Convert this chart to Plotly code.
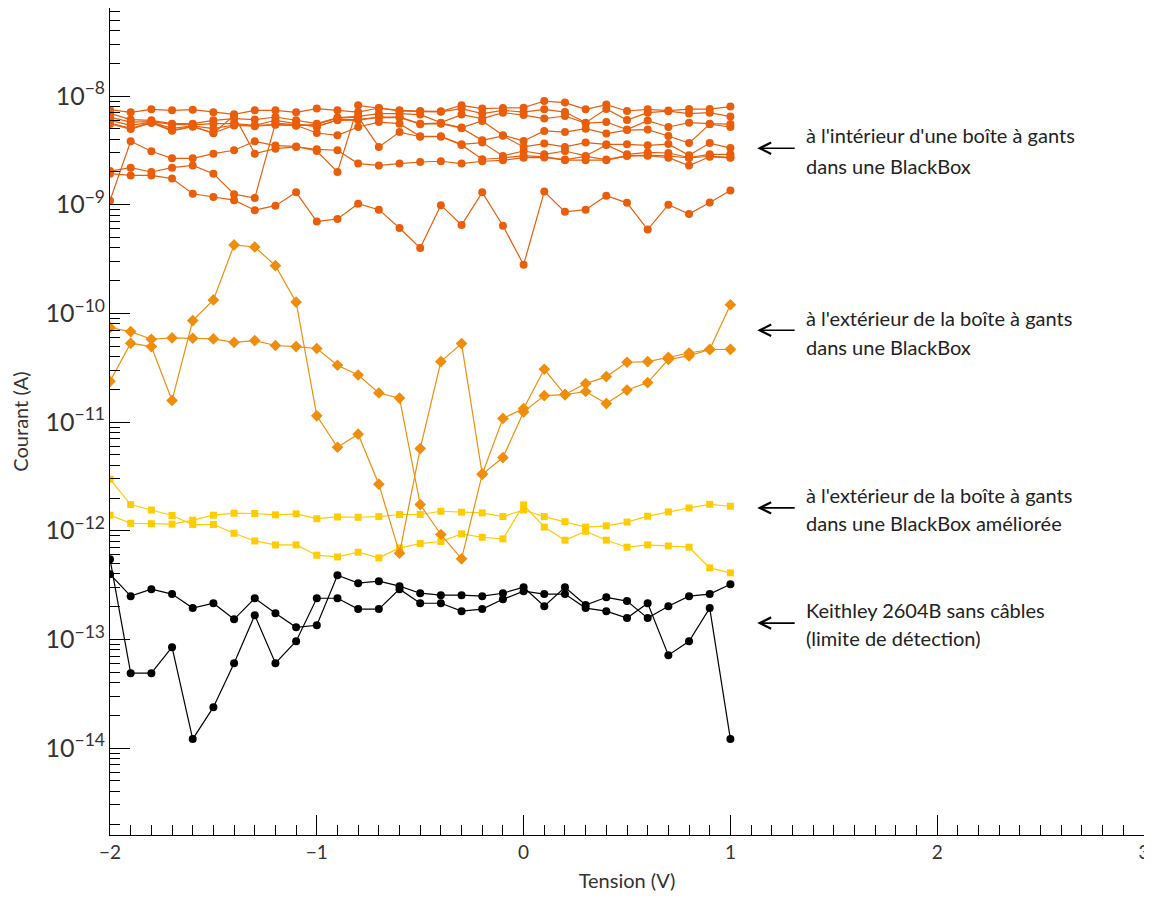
import plotly.graph_objects as go

# ---------------- data ----------------
voltage = [-2.0, -1.9, -1.8, -1.7, -1.6, -1.5, -1.4, -1.3, -1.2, -1.1, -1.0,
           -0.9, -0.8, -0.7, -0.6, -0.5, -0.4, -0.3, -0.2, -0.1, 0.0,
           0.1, 0.2, 0.3, 0.4, 0.5, 0.6, 0.7, 0.8, 0.9, 1.0]

NANO = 1e-9  # inside-glovebox series are listed in nA

inside_nA_1 = [7.49, 7.08, 7.54, 7.39, 7.49, 7.08, 6.79, 7.39, 7.39, 7.08, 7.66, 7.39, 7.12, 7.76, 7.39,
               7.28, 7.23, 8.21, 7.66, 7.76, 7.82, 8.99, 8.70, 7.54, 8.34, 7.28, 7.54, 7.34, 7.59, 7.59, 7.99]
inside_nA_2 = [1.09, 3.83, 3.10, 2.67, 2.67, 2.95, 3.17, 3.83, 3.50, 3.44, 3.12, 2.00, 8.21, 7.71, 7.31,
               7.20, 7.15, 7.66, 6.89, 7.39, 7.12, 7.54, 7.12, 5.69, 7.59, 6.01, 7.03, 7.26, 6.89, 7.03, 6.47]
inside_nA_3 = [6.93, 6.07, 5.98, 5.57, 5.57, 5.98, 6.20, 6.07, 6.41, 5.98, 5.57, 6.33, 6.51, 6.89, 6.89,
               6.75, 5.69, 6.75, 6.20, 7.03, 6.68, 6.20, 6.55, 5.63, 5.76, 4.91, 5.94, 5.19, 5.69, 5.57, 5.52]
inside_nA_4 = [6.41, 5.76, 5.82, 5.49, 5.43, 5.57, 5.57, 5.38, 5.98, 5.57, 5.19, 6.07, 6.07, 6.41, 6.41,
               5.57, 5.63, 5.12, 5.89, 4.35, 3.86, 4.77, 4.66, 5.01, 4.51, 4.86, 4.91, 4.29, 3.69, 5.51, 5.19]
inside_nA_5 = [2.04, 2.19, 2.00, 2.19, 2.30, 1.93, 1.25, 1.15, 5.64, 5.49, 5.27, 5.98, 6.00, 6.37, 6.34,
               5.51, 5.57, 5.06, 3.91, 4.30, 3.40, 3.65, 3.40, 3.73, 3.59, 3.59, 3.52, 3.61, 2.85, 3.69, 3.32]
inside_nA_6 = [5.98, 5.38, 5.76, 5.04, 5.31, 5.01, 5.41, 5.33, 5.49, 5.38, 4.57, 4.35, 5.19, 5.76, 5.57,
               4.26, 4.26, 3.59, 3.73, 2.81, 3.12, 2.91, 3.12, 2.81, 3.55, 2.91, 3.03, 2.99, 2.72, 2.91, 2.91]
inside_nA_7 = [5.64, 5.04, 5.73, 4.84, 5.27, 4.57, 5.36, 5.27, 5.43, 5.33, 5.49, 6.24, 6.44, 3.40, 4.66,
               4.22, 4.22, 3.55, 2.62, 2.69, 2.83, 2.75, 2.60, 2.78, 2.60, 2.83, 2.85, 2.81, 2.69, 2.79, 2.73]
inside_nA_8 = [5.54, 4.97, 5.66, 4.79, 5.22, 4.54, 6.64, 2.95, 3.28, 3.40, 3.23, 3.17, 2.39, 2.30, 2.39,
               2.47, 2.51, 2.39, 2.51, 2.56, 2.71, 2.72, 2.57, 2.56, 2.57, 2.80, 2.82, 2.71, 2.29, 2.76, 2.70]
inside_nA_9 = [1.93, 1.86, 1.86, 1.74, 1.26, 1.18, 1.10, 0.89, 0.98, 1.30, 0.70, 0.74, 1.02, 0.90, 0.61,
               0.40, 0.99, 0.65, 1.30, 0.64, 0.28, 1.32, 0.86, 0.90, 1.21, 1.04, 0.59, 1.00, 0.82, 1.05, 1.35]

outside_1 = [7.40e-11, 6.80e-11, 5.78e-11, 5.94e-11, 5.90e-11, 5.82e-11, 5.42e-11, 5.62e-11, 5.06e-11, 4.95e-11,
             4.75e-11, 3.33e-11, 2.71e-11, 1.85e-11, 1.66e-11, 1.74e-12, 9.23e-13, 5.51e-13, 3.31e-12, 4.71e-12,
             1.24e-11, 1.75e-11, 1.79e-11, 1.91e-11, 1.48e-11, 1.97e-11, 2.31e-11, 3.78e-11, 4.06e-11, 4.65e-11,
             4.67e-11]
outside_2 = [2.37e-11, 5.31e-11, 4.95e-11, 1.58e-11, 8.59e-11, 1.33e-10, 4.26e-10, 4.08e-10, 2.75e-10, 1.27e-10,
             1.14e-11, 5.86e-12, 7.73e-12, 2.68e-12, 6.21e-13, 5.70e-12, 3.60e-11, 5.27e-11, 3.31e-12, 1.08e-11,
             1.33e-11, 3.06e-11, 1.79e-11, 2.26e-11, 2.62e-11, 3.55e-11, 3.60e-11, 3.94e-11, 4.32e-11, 4.65e-11,
             1.20e-10]

improved_1 = [2.98e-12, 1.74e-12, 1.55e-12, 1.38e-12, 1.14e-12, 1.14e-12, 9.48e-13, 8.05e-13, 7.40e-13, 7.40e-13,
              5.95e-13, 5.74e-13, 6.34e-13, 5.62e-13, 6.95e-13, 7.62e-13, 7.96e-13, 9.35e-13, 8.71e-13, 8.41e-13,
              1.73e-12, 1.08e-12, 8.18e-13, 9.89e-13, 8.18e-13, 7.05e-13, 7.40e-13, 7.24e-13, 7.05e-13, 4.55e-13,
              4.09e-13]
improved_2 = [1.39e-12, 1.17e-12, 1.16e-12, 1.15e-12, 1.25e-12, 1.39e-12, 1.45e-12, 1.44e-12, 1.40e-12, 1.43e-12,
              1.29e-12, 1.34e-12, 1.33e-12, 1.35e-12, 1.41e-12, 1.41e-12, 1.51e-12, 1.48e-12, 1.46e-12, 1.35e-12,
              1.55e-12, 1.35e-12, 1.21e-12, 1.08e-12, 1.11e-12, 1.20e-12, 1.36e-12, 1.49e-12, 1.62e-12, 1.75e-12,
              1.68e-12]

keithley_1 = [3.98e-13, 2.50e-13, 2.90e-13, 2.61e-13, 1.94e-13, 2.15e-13, 1.53e-13, 2.39e-13, 1.74e-13, 1.29e-13,
              1.35e-13, 3.90e-13, 3.29e-13, 3.43e-13, 3.09e-13, 2.66e-13, 2.55e-13, 2.55e-13, 2.50e-13, 2.66e-13,
              3.02e-13, 2.02e-13, 3.02e-13, 2.07e-13, 2.44e-13, 2.25e-13, 1.57e-13, 2.02e-13, 2.50e-13, 2.61e-13,
              3.22e-13]
keithley_2 = [5.47e-13, 4.89e-14, 4.89e-14, 8.48e-14, 1.21e-14, 2.38e-14, 6.04e-14, 1.67e-13, 6.04e-14, 9.62e-14,
              2.39e-13, 2.39e-13, 1.90e-13, 1.90e-13, 2.90e-13, 2.15e-13, 2.15e-13, 1.82e-13, 1.90e-13, 2.34e-13,
              2.78e-13, 2.61e-13, 2.61e-13, 1.94e-13, 1.82e-13, 1.57e-13, 2.15e-13, 7.16e-14, 9.62e-14, 1.94e-13,
              1.21e-14]

labels = [
    ("à l'intérieur d'une boîte à gants", "dans une BlackBox"),
    ("à l'extérieur de la boîte à gants", "dans une BlackBox"),
    ("à l'extérieur de la boîte à gants", "dans une BlackBox améliorée"),
    ("Keithley 2604B sans câbles", "(limite de détection)"),
]
# log10 positions of the label blocks (line 1, line 2, arrow)
label_pos = [(-8.36, -8.64, -8.48), (-10.045, -10.31, -10.156),
             (-11.67, -11.93, -11.79), (-12.73, -12.99, -12.85)]

# ---------------- styling ----------------
C_INSIDE = "#EA5D0B"
C_OUTSIDE = "#F18D0C"
C_IMPROVED = "#FFCC00"
C_BLACK = "#000000"
FONT = "Lato, 'Open Sans', sans-serif"

fig = go.Figure()


def add(y, color, symbol, size):
    fig.add_trace(go.Scatter(
        x=voltage, y=y, mode="lines+markers",
        line=dict(color=color, width=1.2),
        marker=dict(symbol=symbol, size=size, color=color, line=dict(width=0)),
        showlegend=False, hoverinfo="skip"))


for s in (keithley_1, keithley_2):
    add(s, C_BLACK, "circle", 8)
for s in (improved_1, improved_2):
    add(s, C_IMPROVED, "square", 7)
for s in (outside_1, outside_2):
    add(s, C_OUTSIDE, "diamond", 9)
for s in (inside_nA_1, inside_nA_2, inside_nA_3, inside_nA_4, inside_nA_5,
          inside_nA_6, inside_nA_7, inside_nA_8, inside_nA_9):
    add([v * NANO for v in s], C_INSIDE, "circle", 8)

annotations = []
TEXT_X = 1.357
for (l1, l2), (y1, y2, ya) in zip(labels, label_pos):
    for txt, yy in ((l1, y1), (l2, y2)):
        annotations.append(dict(x=TEXT_X, y=yy, xref="x", yref="y", text=txt,
                                showarrow=False, xanchor="left", yanchor="middle",
                                font=dict(family=FONT, size=20, color="#222222")))
    annotations.append(dict(x=1.13, y=ya, ax=1.318, ay=ya, xref="x", yref="y",
                            axref="x", ayref="y", text="", showarrow=True,
                            arrowhead=5, arrowsize=1.4, arrowwidth=1.6,
                            arrowcolor="#000000"))

fig.update_layout(
    width=1144, height=884,
    margin=dict(l=102, r=8, t=0, b=57, autoexpand=False),
    paper_bgcolor="white", plot_bgcolor="white",
    font=dict(family=FONT, size=19, color="#333333"),
    hovermode=False,
    annotations=annotations,
    xaxis=dict(
        range=[-2, 3], tick0=0, dtick=1, automargin=False, ticklabeloverflow="allow",
        ticks="inside", ticklen=20, tickwidth=1, tickcolor="black",
        showline=True, linecolor="black", linewidth=1, mirror=True,
        showgrid=False, zeroline=False,
        minor=dict(ticks="inside", ticklen=10, dtick=0.1, tickcolor="black", showgrid=False),
        tickfont=dict(family=FONT, size=19, color="#333333"),
        title=dict(text="Tension (V)", font=dict(family=FONT, size=20, color="#333333"), standoff=16),
    ),
    yaxis=dict(
        type="log", range=[-14.8, -7.19], dtick=1, exponentformat="power", automargin=False,
        ticks="inside", ticklen=20, tickwidth=1, tickcolor="black",
        showline=True, linecolor="black", linewidth=1, mirror=True,
        showgrid=False, zeroline=False,
        minor=dict(ticks="inside", ticklen=10, dtick="D1", tickcolor="black", showgrid=False),
        tickfont=dict(family=FONT, size=20, color="#333333"),
        title=dict(text="Courant (A)", font=dict(family=FONT, size=20, color="#333333"), standoff=12),
    ),
)

fig.write_html("out.html")
